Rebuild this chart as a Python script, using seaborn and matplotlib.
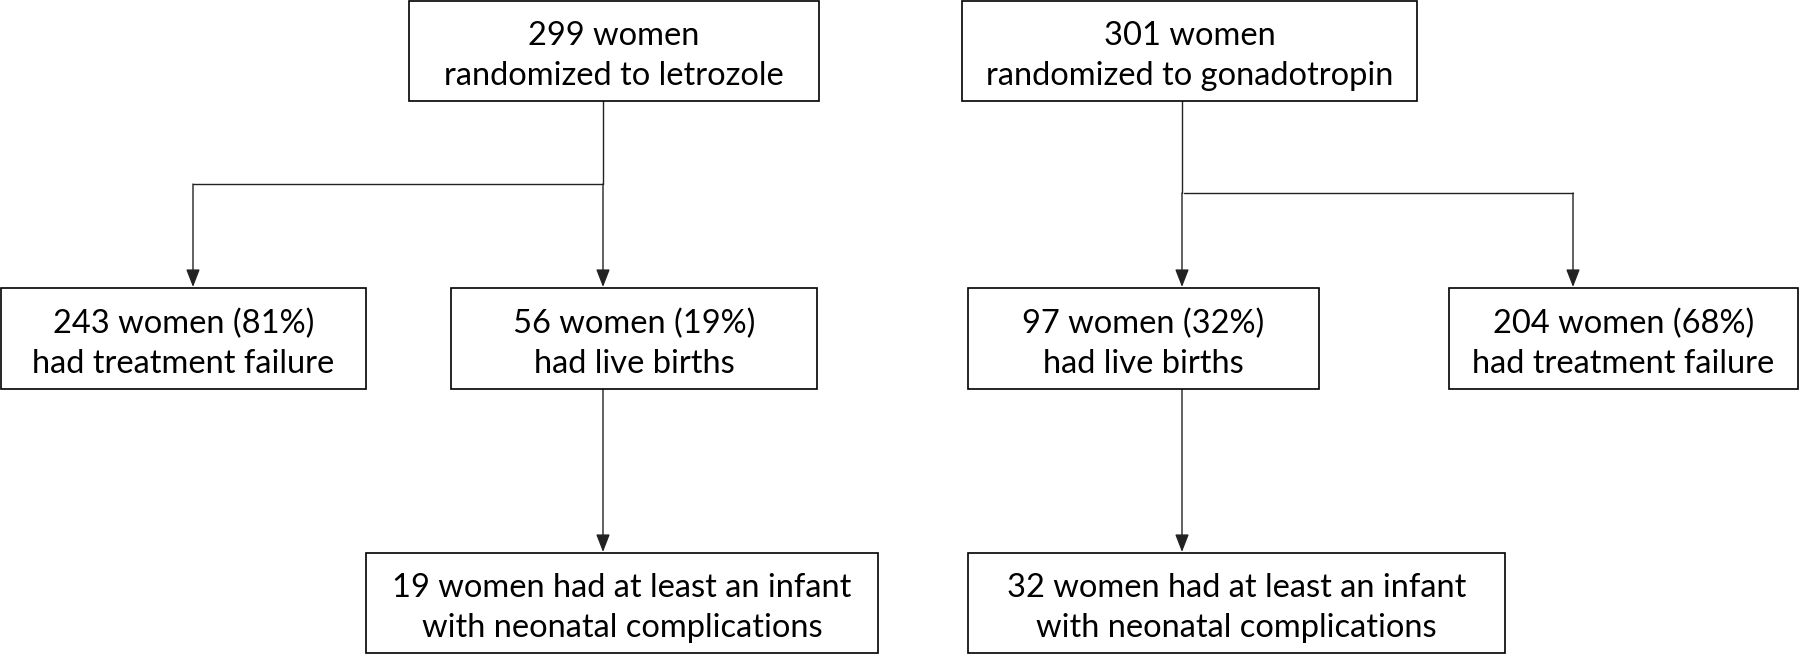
import matplotlib
matplotlib.use("Agg")
import matplotlib.pyplot as plt
import seaborn as sns
from matplotlib.patches import Rectangle

# Flowchart texts
TOP_LABELS = ["299 women\nrandomized to letrozole", "301 women\nrandomized to gonadotropin"]
MID_LABELS = ["243 women (81%)\nhad treatment failure", "56 women (19%)\nhad live births",
              "97 women (32%)\nhad live births", "204 women (68%)\nhad treatment failure"]
BOTTOM_LABELS = ["19 women had at least an infant\nwith neonatal complications",
                 "32 women had at least an infant\nwith neonatal complications"]

sns.set_theme(style="white")
plt.rcParams['font.family'] = ['Lato', 'DejaVu Sans']

W, H = 1800, 655
fig = plt.figure(figsize=(18, 6.55), dpi=100)
ax = fig.add_axes([0, 0, 1, 1])
ax.set_xlim(0, W)
ax.set_ylim(H, 0)
ax.axis("off")

# box layout in pixel coordinates (x0, x1, y0, y1)
top_boxes = [(409, 819, 1, 101), (962, 1417, 1, 101)]
mid_boxes = [(1, 366, 288, 389), (451, 817, 288, 389), (968, 1319, 288, 389), (1449, 1798, 288, 389)]
bot_boxes = [(366, 878, 553, 653), (968, 1505, 553, 653)]

FS = 23.5


def draw_box(b, label):
    x0, x1, y0, y1 = b
    ax.add_patch(Rectangle((x0, y0), x1 - x0, y1 - y0, facecolor="white",
                           edgecolor="black", linewidth=1.2, zorder=3))
    ax.text((x0 + x1) / 2, (y0 + y1) / 2 + 5, label, ha="center", va="center",
            fontsize=FS, linespacing=1.42, color="black", zorder=4)


for b, lab in zip(top_boxes, TOP_LABELS):
    draw_box(b, lab)
for b, lab in zip(mid_boxes, MID_LABELS):
    draw_box(b, lab)
for b, lab in zip(bot_boxes, BOTTOM_LABELS):
    draw_box(b, lab)

lc = "#222222"
lw = 1.0


def line(xs, ys):
    ax.plot(xs, ys, color=lc, linewidth=lw, zorder=2)


def arrow(x, y0, y1):
    ax.annotate("", xy=(x, y1), xytext=(x, y0),
                arrowprops=dict(arrowstyle="-|>,head_length=0.9,head_width=0.35",
                                color=lc, lw=lw, shrinkA=0, shrinkB=0), zorder=2)


# left branch
line([603, 603], [101, 184])
line([193, 603], [184, 184])
arrow(193, 184, 287)
arrow(603, 184, 287)
arrow(603, 389, 552)

# right branch
line([1182, 1182], [101, 193])
line([1184, 1573], [193, 193])
arrow(1182, 193, 287)
arrow(1573, 193, 287)
arrow(1182, 389, 552)

fig.savefig("out.png", dpi=100, facecolor="white")
